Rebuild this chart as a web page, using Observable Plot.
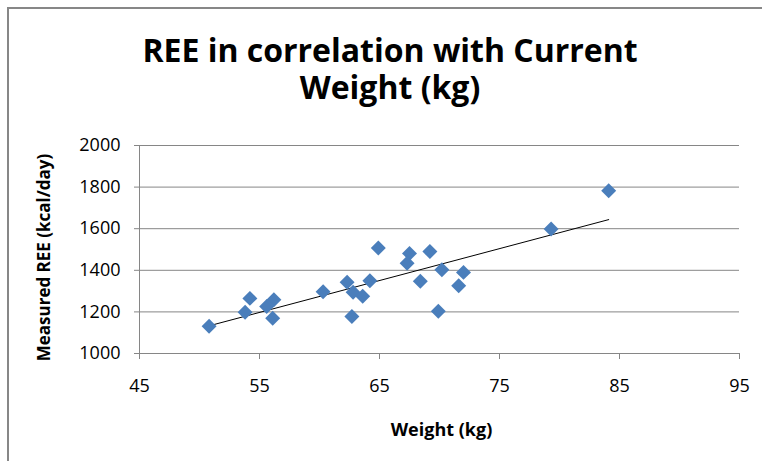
<!DOCTYPE html>
<html>
<head>
<meta charset="utf-8">
<script src="https://cdn.jsdelivr.net/npm/d3@7"></script>
<script src="https://cdn.jsdelivr.net/npm/@observablehq/plot@0.6"></script>
<style>
  html, body { margin: 0; background: #fff; overflow: hidden; }
  #chart { position: relative; width: 762px; height: 461px; overflow: hidden; background: #fff; font-family: "Open Sans", sans-serif; color: #000; }
  #frame { position: absolute; left: 7px; top: 7px; width: 800px; height: 500px; border-left: 2px solid #878787; border-top: 2px solid #878787; }
  #title { position: absolute; left: 0; top: 31px; width: 780px; text-align: center; font-weight: bold; font-size: 32px; line-height: 37px; }
  #plot { position: absolute; left: 0; top: 125px; }
</style>
</head>
<body>
<div id="chart">
  <div id="frame"></div>
  <div id="title">REE in correlation with Current<br>Weight (kg)</div>
  <div id="plot"></div>
</div>
<script>
// Current body weight (kg) and measured resting energy expenditure (kcal/day)
const weight = [50.8, 54.2, 53.8, 56.2, 55.6, 56.1, 60.3, 62.3, 62.8, 63.6, 62.7, 64.2, 64.9, 67.5, 67.3, 68.4, 69.2, 70.2, 69.9, 72.0, 71.6, 79.3, 84.1];
const ree    = [1131, 1265, 1198, 1258, 1226, 1170, 1297, 1342, 1294, 1275, 1178, 1350, 1507, 1481, 1434, 1347, 1490, 1403, 1203, 1390, 1326, 1598, 1782];

const xTicks = [45, 55, 65, 75, 85, 95];
const yTicks = [1000, 1200, 1400, 1600, 1800, 2000];

const xTitle = "Weight (kg)";
const yTitle = "Measured REE (kcal/day)";

const rows = weight.map((w, i) => ({weight: w, ree: ree[i]}));

const axisGray = "#868686";
const plain = (d) => String(d);

const chart = Plot.plot({
  width: 762,
  height: 336,
  marginLeft: 139,
  marginRight: 23,
  marginTop: 20,
  marginBottom: 108,
  style: {fontFamily: "'Open Sans', sans-serif", fontSize: "18px", color: "#000", background: "transparent"},
  x: {domain: [45, 95], label: null},
  y: {domain: [1000, 2000], label: null},
  marks: [
    Plot.gridY(yTicks, {stroke: axisGray, strokeOpacity: 1, strokeWidth: 1}),
    Plot.axisY(yTicks, {tickSize: 5, tickPadding: 14, stroke: axisGray, fill: "#000", label: null, tickFormat: plain}),
    Plot.axisX(xTicks, {tickSize: 6, tickPadding: 20, stroke: axisGray, fill: "#000", label: null, tickFormat: plain}),
    Plot.ruleX([45], {stroke: axisGray}),
    Plot.ruleY([1000], {stroke: axisGray}),
    Plot.linearRegressionY(rows, {x: "weight", y: "ree", ci: 0, stroke: "#000", strokeWidth: 1}),
    Plot.dot(rows, {x: "weight", y: "ree", symbol: "diamond2", r: 6.75, fill: "#4a7ebb", stroke: "none"}),
    Plot.text([xTitle], {frameAnchor: "bottom", dy: 77, dx: 2, fontWeight: "bold", fontSize: 18, textAnchor: "middle", lineAnchor: "middle"}),
    Plot.text([yTitle], {frameAnchor: "left", dx: -95, dy: 8, rotate: -90, fontWeight: "bold", fontSize: 17, textAnchor: "middle", lineAnchor: "middle"})
  ]
});
document.getElementById("plot").append(chart);
</script>
</body>
</html>
